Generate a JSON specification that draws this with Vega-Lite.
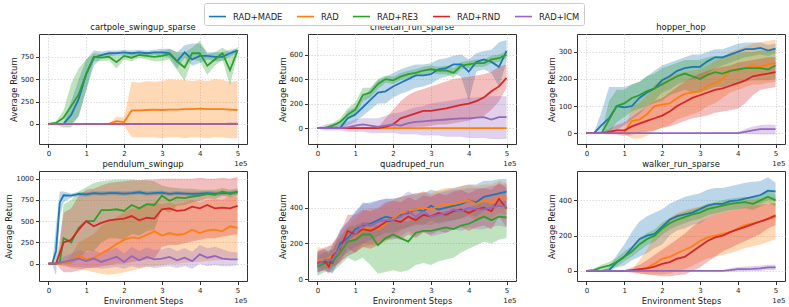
{
"$schema":"https://vega.github.io/schema/vega-lite/v6.json",
"padding":{"left":4,"top":2,"right":0,"bottom":0},
"config":{
"font":"DejaVu Sans",
"view":{"stroke":"#333333","strokeWidth":1},
"axis":{"labelFontSize":7,"titleFontSize":8.4,"titleFontWeight":"normal","labelColor":"#222222","titleColor":"#222222","tickColor":"#333333","tickSize":3.5,"labelPadding":1.5,"domain":false,"grid":true,"gridColor":"#d4d4d4","gridDash":[1.5,1.5],"gridWidth":0.8,"titlePadding":3,"labelFlush":false,"labelOverlap":false},
"axisY":{"titlePadding":2,"labelPadding":2},
"title":{"fontSize":8.4,"fontWeight":"normal","offset":3,"color":"#111111"},
"legend":{"symbolType":"stroke","symbolSize":289,"symbolStrokeWidth":1.6,"labelFontSize":8.4,"labelColor":"#222222","columnPadding":10,"labelOffset":6,"strokeColor":"#cccccc","fillColor":"#ffffff","padding":4,"cornerRadius":2}
},
"datasets":{
"cartpole":[
{"algo":"RAD+MADE","step":0,"ret":0,"lo":-5,"hi":5},{"algo":"RAD+MADE","step":0.2,"ret":0,"lo":-5,"hi":5},{"algo":"RAD+MADE","step":0.4,"ret":0,"lo":-10,"hi":10},{"algo":"RAD+MADE","step":0.6,"ret":100,"lo":0,"hi":250},{"algo":"RAD+MADE","step":0.8,"ret":280,"lo":80,"hi":500},{"algo":"RAD+MADE","step":1.0,"ret":560,"lo":380,"hi":720},{"algo":"RAD+MADE","step":1.2,"ret":740,"lo":650,"hi":820},{"algo":"RAD+MADE","step":1.4,"ret":770,"lo":740,"hi":810},{"algo":"RAD+MADE","step":1.6,"ret":790,"lo":760,"hi":820},{"algo":"RAD+MADE","step":1.8,"ret":790,"lo":760,"hi":820},{"algo":"RAD+MADE","step":2.0,"ret":800,"lo":770,"hi":830},{"algo":"RAD+MADE","step":2.2,"ret":790,"lo":760,"hi":820},{"algo":"RAD+MADE","step":2.4,"ret":800,"lo":770,"hi":830},{"algo":"RAD+MADE","step":2.6,"ret":790,"lo":760,"hi":820},{"algo":"RAD+MADE","step":2.8,"ret":800,"lo":770,"hi":830},{"algo":"RAD+MADE","step":3.0,"ret":800,"lo":760,"hi":840},{"algo":"RAD+MADE","step":3.2,"ret":790,"lo":740,"hi":840},{"algo":"RAD+MADE","step":3.4,"ret":700,"lo":620,"hi":800},{"algo":"RAD+MADE","step":3.6,"ret":800,"lo":740,"hi":880},{"algo":"RAD+MADE","step":3.8,"ret":720,"lo":650,"hi":900},{"algo":"RAD+MADE","step":4.0,"ret":760,"lo":680,"hi":900},{"algo":"RAD+MADE","step":4.2,"ret":760,"lo":720,"hi":800},{"algo":"RAD+MADE","step":4.4,"ret":750,"lo":700,"hi":800},{"algo":"RAD+MADE","step":4.6,"ret":750,"lo":700,"hi":800},{"algo":"RAD+MADE","step":4.8,"ret":790,"lo":750,"hi":830},{"algo":"RAD+MADE","step":5.0,"ret":820,"lo":790,"hi":840},
{"algo":"RAD","step":0,"ret":0,"lo":-3,"hi":3},{"algo":"RAD","step":0.8,"ret":0,"lo":-3,"hi":3},{"algo":"RAD","step":1.6,"ret":0,"lo":-3,"hi":3},{"algo":"RAD","step":1.8,"ret":30,"lo":-20,"hi":80},{"algo":"RAD","step":2.0,"ret":20,"lo":-20,"hi":70},{"algo":"RAD","step":2.2,"ret":150,"lo":-150,"hi":470},{"algo":"RAD","step":2.4,"ret":150,"lo":-150,"hi":460},{"algo":"RAD","step":2.6,"ret":155,"lo":-150,"hi":480},{"algo":"RAD","step":2.8,"ret":160,"lo":-150,"hi":470},{"algo":"RAD","step":3.0,"ret":155,"lo":-160,"hi":480},{"algo":"RAD","step":3.2,"ret":160,"lo":-150,"hi":500},{"algo":"RAD","step":3.4,"ret":160,"lo":-150,"hi":490},{"algo":"RAD","step":3.6,"ret":165,"lo":-160,"hi":490},{"algo":"RAD","step":3.8,"ret":165,"lo":-150,"hi":480},{"algo":"RAD","step":4.0,"ret":170,"lo":-150,"hi":490},{"algo":"RAD","step":4.2,"ret":165,"lo":-160,"hi":480},{"algo":"RAD","step":4.4,"ret":165,"lo":-150,"hi":500},{"algo":"RAD","step":4.6,"ret":165,"lo":-150,"hi":490},{"algo":"RAD","step":4.8,"ret":160,"lo":-160,"hi":470},{"algo":"RAD","step":5.0,"ret":155,"lo":-160,"hi":480},
{"algo":"RAD+RE3","step":0,"ret":0,"lo":-5,"hi":5},{"algo":"RAD+RE3","step":0.2,"ret":10,"lo":-10,"hi":30},{"algo":"RAD+RE3","step":0.4,"ret":70,"lo":-40,"hi":150},{"algo":"RAD+RE3","step":0.6,"ret":200,"lo":-40,"hi":450},{"algo":"RAD+RE3","step":0.8,"ret":330,"lo":100,"hi":620},{"algo":"RAD+RE3","step":1.0,"ret":560,"lo":380,"hi":720},{"algo":"RAD+RE3","step":1.2,"ret":750,"lo":700,"hi":790},{"algo":"RAD+RE3","step":1.4,"ret":740,"lo":700,"hi":780},{"algo":"RAD+RE3","step":1.6,"ret":750,"lo":710,"hi":790},{"algo":"RAD+RE3","step":1.8,"ret":690,"lo":620,"hi":760},{"algo":"RAD+RE3","step":2.0,"ret":760,"lo":720,"hi":790},{"algo":"RAD+RE3","step":2.2,"ret":740,"lo":700,"hi":780},{"algo":"RAD+RE3","step":2.4,"ret":770,"lo":740,"hi":800},{"algo":"RAD+RE3","step":2.6,"ret":760,"lo":720,"hi":800},{"algo":"RAD+RE3","step":2.8,"ret":750,"lo":700,"hi":800},{"algo":"RAD+RE3","step":3.0,"ret":760,"lo":700,"hi":810},{"algo":"RAD+RE3","step":3.2,"ret":780,"lo":720,"hi":840},{"algo":"RAD+RE3","step":3.4,"ret":700,"lo":600,"hi":800},{"algo":"RAD+RE3","step":3.6,"ret":630,"lo":480,"hi":800},{"algo":"RAD+RE3","step":3.8,"ret":790,"lo":720,"hi":850},{"algo":"RAD+RE3","step":4.0,"ret":790,"lo":700,"hi":930},{"algo":"RAD+RE3","step":4.2,"ret":650,"lo":550,"hi":780},{"algo":"RAD+RE3","step":4.4,"ret":720,"lo":650,"hi":800},{"algo":"RAD+RE3","step":4.6,"ret":790,"lo":720,"hi":850},{"algo":"RAD+RE3","step":4.8,"ret":600,"lo":430,"hi":800},{"algo":"RAD+RE3","step":5.0,"ret":820,"lo":780,"hi":860},
{"algo":"RAD+RND","step":0,"ret":0,"lo":-3,"hi":3},{"algo":"RAD+RND","step":2.5,"ret":0,"lo":-3,"hi":3},{"algo":"RAD+RND","step":5.0,"ret":0,"lo":-3,"hi":3},
{"algo":"RAD+ICM","step":0,"ret":0,"lo":-3,"hi":3},{"algo":"RAD+ICM","step":4.6,"ret":0,"lo":-3,"hi":3},{"algo":"RAD+ICM","step":4.8,"ret":0,"lo":-5,"hi":20},{"algo":"RAD+ICM","step":5.0,"ret":0,"lo":-5,"hi":15}
],
"cheetah":[
{"algo":"RAD+MADE","step":0,"ret":0,"lo":-5,"hi":5},{"algo":"RAD+MADE","step":0.2,"ret":0,"lo":-10,"hi":10},{"algo":"RAD+MADE","step":0.4,"ret":0,"lo":-10,"hi":20},{"algo":"RAD+MADE","step":0.6,"ret":0,"lo":-10,"hi":20},{"algo":"RAD+MADE","step":0.8,"ret":80,"lo":20,"hi":140},{"algo":"RAD+MADE","step":1.0,"ret":110,"lo":50,"hi":170},{"algo":"RAD+MADE","step":1.2,"ret":170,"lo":100,"hi":250},{"algo":"RAD+MADE","step":1.4,"ret":230,"lo":150,"hi":320},{"algo":"RAD+MADE","step":1.6,"ret":290,"lo":200,"hi":390},{"algo":"RAD+MADE","step":1.8,"ret":300,"lo":200,"hi":420},{"algo":"RAD+MADE","step":2.0,"ret":340,"lo":250,"hi":450},{"algo":"RAD+MADE","step":2.2,"ret":370,"lo":280,"hi":480},{"algo":"RAD+MADE","step":2.4,"ret":400,"lo":300,"hi":500},{"algo":"RAD+MADE","step":2.6,"ret":430,"lo":330,"hi":520},{"algo":"RAD+MADE","step":2.8,"ret":430,"lo":340,"hi":520},{"algo":"RAD+MADE","step":3.0,"ret":440,"lo":360,"hi":530},{"algo":"RAD+MADE","step":3.2,"ret":480,"lo":400,"hi":560},{"algo":"RAD+MADE","step":3.4,"ret":490,"lo":420,"hi":570},{"algo":"RAD+MADE","step":3.6,"ret":520,"lo":450,"hi":590},{"algo":"RAD+MADE","step":3.8,"ret":520,"lo":420,"hi":600},{"algo":"RAD+MADE","step":4.0,"ret":460,"lo":220,"hi":560},{"algo":"RAD+MADE","step":4.2,"ret":540,"lo":460,"hi":610},{"algo":"RAD+MADE","step":4.4,"ret":560,"lo":480,"hi":630},{"algo":"RAD+MADE","step":4.6,"ret":540,"lo":450,"hi":640},{"algo":"RAD+MADE","step":4.8,"ret":500,"lo":340,"hi":700},{"algo":"RAD+MADE","step":5.0,"ret":630,"lo":540,"hi":720},
{"algo":"RAD","step":0,"ret":0,"lo":-2,"hi":2},{"algo":"RAD","step":2.5,"ret":0,"lo":-2,"hi":2},{"algo":"RAD","step":5.0,"ret":0,"lo":-2,"hi":2},
{"algo":"RAD+RE3","step":0,"ret":0,"lo":-5,"hi":5},{"algo":"RAD+RE3","step":0.2,"ret":0,"lo":-5,"hi":10},{"algo":"RAD+RE3","step":0.4,"ret":20,"lo":0,"hi":40},{"algo":"RAD+RE3","step":0.6,"ret":50,"lo":20,"hi":80},{"algo":"RAD+RE3","step":0.8,"ret":110,"lo":70,"hi":160},{"algo":"RAD+RE3","step":1.0,"ret":150,"lo":100,"hi":210},{"algo":"RAD+RE3","step":1.2,"ret":270,"lo":220,"hi":330},{"algo":"RAD+RE3","step":1.4,"ret":290,"lo":250,"hi":330},{"algo":"RAD+RE3","step":1.6,"ret":360,"lo":320,"hi":400},{"algo":"RAD+RE3","step":1.8,"ret":400,"lo":370,"hi":430},{"algo":"RAD+RE3","step":2.0,"ret":390,"lo":360,"hi":420},{"algo":"RAD+RE3","step":2.2,"ret":420,"lo":390,"hi":450},{"algo":"RAD+RE3","step":2.4,"ret":440,"lo":410,"hi":470},{"algo":"RAD+RE3","step":2.6,"ret":450,"lo":420,"hi":480},{"algo":"RAD+RE3","step":2.8,"ret":470,"lo":440,"hi":500},{"algo":"RAD+RE3","step":3.0,"ret":480,"lo":450,"hi":510},{"algo":"RAD+RE3","step":3.2,"ret":470,"lo":440,"hi":500},{"algo":"RAD+RE3","step":3.4,"ret":470,"lo":440,"hi":510},{"algo":"RAD+RE3","step":3.6,"ret":450,"lo":410,"hi":490},{"algo":"RAD+RE3","step":3.8,"ret":510,"lo":480,"hi":540},{"algo":"RAD+RE3","step":4.0,"ret":520,"lo":490,"hi":550},{"algo":"RAD+RE3","step":4.2,"ret":530,"lo":500,"hi":560},{"algo":"RAD+RE3","step":4.4,"ret":530,"lo":500,"hi":560},{"algo":"RAD+RE3","step":4.6,"ret":560,"lo":530,"hi":590},{"algo":"RAD+RE3","step":4.8,"ret":570,"lo":540,"hi":600},{"algo":"RAD+RE3","step":5.0,"ret":600,"lo":570,"hi":630},
{"algo":"RAD+RND","step":0,"ret":0,"lo":-5,"hi":5},{"algo":"RAD+RND","step":0.8,"ret":0,"lo":-5,"hi":5},{"algo":"RAD+RND","step":1.6,"ret":0,"lo":-5,"hi":5},{"algo":"RAD+RND","step":1.8,"ret":10,"lo":-5,"hi":80},{"algo":"RAD+RND","step":2.0,"ret":30,"lo":0,"hi":150},{"algo":"RAD+RND","step":2.2,"ret":80,"lo":0,"hi":220},{"algo":"RAD+RND","step":2.4,"ret":100,"lo":0,"hi":270},{"algo":"RAD+RND","step":2.6,"ret":120,"lo":10,"hi":300},{"algo":"RAD+RND","step":2.8,"ret":140,"lo":10,"hi":320},{"algo":"RAD+RND","step":3.0,"ret":140,"lo":20,"hi":340},{"algo":"RAD+RND","step":3.2,"ret":150,"lo":30,"hi":360},{"algo":"RAD+RND","step":3.4,"ret":160,"lo":30,"hi":380},{"algo":"RAD+RND","step":3.6,"ret":175,"lo":40,"hi":400},{"algo":"RAD+RND","step":3.8,"ret":190,"lo":50,"hi":410},{"algo":"RAD+RND","step":4.0,"ret":200,"lo":60,"hi":420},{"algo":"RAD+RND","step":4.2,"ret":220,"lo":80,"hi":430},{"algo":"RAD+RND","step":4.4,"ret":250,"lo":100,"hi":440},{"algo":"RAD+RND","step":4.6,"ret":300,"lo":150,"hi":460},{"algo":"RAD+RND","step":4.8,"ret":340,"lo":220,"hi":500},{"algo":"RAD+RND","step":5.0,"ret":410,"lo":330,"hi":520},
{"algo":"RAD+ICM","step":0,"ret":0,"lo":-5,"hi":5},{"algo":"RAD+ICM","step":0.2,"ret":0,"lo":-20,"hi":30},{"algo":"RAD+ICM","step":0.4,"ret":0,"lo":-20,"hi":40},{"algo":"RAD+ICM","step":0.6,"ret":0,"lo":-20,"hi":40},{"algo":"RAD+ICM","step":0.8,"ret":5,"lo":-30,"hi":50},{"algo":"RAD+ICM","step":1.0,"ret":20,"lo":-30,"hi":70},{"algo":"RAD+ICM","step":1.2,"ret":30,"lo":-30,"hi":80},{"algo":"RAD+ICM","step":1.4,"ret":20,"lo":-40,"hi":80},{"algo":"RAD+ICM","step":1.6,"ret":10,"lo":-40,"hi":80},{"algo":"RAD+ICM","step":1.8,"ret":20,"lo":-40,"hi":100},{"algo":"RAD+ICM","step":2.0,"ret":30,"lo":-40,"hi":120},{"algo":"RAD+ICM","step":2.2,"ret":20,"lo":-50,"hi":130},{"algo":"RAD+ICM","step":2.4,"ret":40,"lo":-50,"hi":150},{"algo":"RAD+ICM","step":2.6,"ret":50,"lo":-50,"hi":170},{"algo":"RAD+ICM","step":2.8,"ret":55,"lo":-60,"hi":180},{"algo":"RAD+ICM","step":3.0,"ret":60,"lo":-60,"hi":200},{"algo":"RAD+ICM","step":3.2,"ret":65,"lo":-60,"hi":210},{"algo":"RAD+ICM","step":3.4,"ret":70,"lo":-70,"hi":220},{"algo":"RAD+ICM","step":3.6,"ret":75,"lo":-70,"hi":230},{"algo":"RAD+ICM","step":3.8,"ret":80,"lo":-70,"hi":240},{"algo":"RAD+ICM","step":4.0,"ret":80,"lo":-80,"hi":250},{"algo":"RAD+ICM","step":4.2,"ret":85,"lo":-80,"hi":250},{"algo":"RAD+ICM","step":4.4,"ret":90,"lo":-80,"hi":260},{"algo":"RAD+ICM","step":4.6,"ret":70,"lo":-90,"hi":260},{"algo":"RAD+ICM","step":4.8,"ret":90,"lo":-90,"hi":260},{"algo":"RAD+ICM","step":5.0,"ret":90,"lo":-90,"hi":260}
],
"hopper":[
{"algo":"RAD+MADE","step":0,"ret":0,"lo":-2,"hi":2},{"algo":"RAD+MADE","step":0.2,"ret":0,"lo":-2,"hi":2},{"algo":"RAD+MADE","step":0.4,"ret":30,"lo":0,"hi":80},{"algo":"RAD+MADE","step":0.6,"ret":55,"lo":0,"hi":170},{"algo":"RAD+MADE","step":0.8,"ret":100,"lo":10,"hi":170},{"algo":"RAD+MADE","step":1.0,"ret":95,"lo":30,"hi":170},{"algo":"RAD+MADE","step":1.2,"ret":100,"lo":50,"hi":180},{"algo":"RAD+MADE","step":1.4,"ret":130,"lo":70,"hi":190},{"algo":"RAD+MADE","step":1.6,"ret":150,"lo":100,"hi":210},{"algo":"RAD+MADE","step":1.8,"ret":165,"lo":120,"hi":230},{"algo":"RAD+MADE","step":2.0,"ret":195,"lo":150,"hi":250},{"algo":"RAD+MADE","step":2.2,"ret":210,"lo":160,"hi":260},{"algo":"RAD+MADE","step":2.4,"ret":230,"lo":180,"hi":270},{"algo":"RAD+MADE","step":2.6,"ret":240,"lo":190,"hi":280},{"algo":"RAD+MADE","step":2.8,"ret":245,"lo":200,"hi":290},{"algo":"RAD+MADE","step":3.0,"ret":245,"lo":200,"hi":290},{"algo":"RAD+MADE","step":3.2,"ret":265,"lo":220,"hi":300},{"algo":"RAD+MADE","step":3.4,"ret":280,"lo":240,"hi":310},{"algo":"RAD+MADE","step":3.6,"ret":280,"lo":250,"hi":310},{"algo":"RAD+MADE","step":3.8,"ret":290,"lo":260,"hi":320},{"algo":"RAD+MADE","step":4.0,"ret":300,"lo":270,"hi":330},{"algo":"RAD+MADE","step":4.2,"ret":310,"lo":280,"hi":335},{"algo":"RAD+MADE","step":4.4,"ret":310,"lo":285,"hi":335},{"algo":"RAD+MADE","step":4.6,"ret":315,"lo":290,"hi":335},{"algo":"RAD+MADE","step":4.8,"ret":305,"lo":285,"hi":325},{"algo":"RAD+MADE","step":5.0,"ret":312,"lo":295,"hi":330},
{"algo":"RAD","step":0,"ret":0,"lo":-3,"hi":3},{"algo":"RAD","step":0.5,"ret":0,"lo":-3,"hi":3},{"algo":"RAD","step":1.0,"ret":0,"lo":-3,"hi":3},{"algo":"RAD","step":1.2,"ret":45,"lo":-20,"hi":100},{"algo":"RAD","step":1.4,"ret":50,"lo":-20,"hi":110},{"algo":"RAD","step":1.6,"ret":70,"lo":-10,"hi":140},{"algo":"RAD","step":1.8,"ret":100,"lo":10,"hi":180},{"algo":"RAD","step":2.0,"ret":105,"lo":20,"hi":200},{"algo":"RAD","step":2.2,"ret":110,"lo":30,"hi":210},{"algo":"RAD","step":2.4,"ret":130,"lo":50,"hi":220},{"algo":"RAD","step":2.6,"ret":145,"lo":60,"hi":225},{"algo":"RAD","step":2.8,"ret":150,"lo":70,"hi":230},{"algo":"RAD","step":3.0,"ret":155,"lo":80,"hi":235},{"algo":"RAD","step":3.2,"ret":175,"lo":100,"hi":250},{"algo":"RAD","step":3.4,"ret":185,"lo":110,"hi":265},{"algo":"RAD","step":3.6,"ret":200,"lo":130,"hi":280},{"algo":"RAD","step":3.8,"ret":230,"lo":150,"hi":300},{"algo":"RAD","step":4.0,"ret":235,"lo":160,"hi":310},{"algo":"RAD","step":4.2,"ret":240,"lo":170,"hi":320},{"algo":"RAD","step":4.4,"ret":250,"lo":180,"hi":330},{"algo":"RAD","step":4.6,"ret":245,"lo":180,"hi":335},{"algo":"RAD","step":4.8,"ret":255,"lo":185,"hi":340},{"algo":"RAD","step":5.0,"ret":258,"lo":190,"hi":345},
{"algo":"RAD+RE3","step":0,"ret":0,"lo":-2,"hi":2},{"algo":"RAD+RE3","step":0.2,"ret":0,"lo":-2,"hi":2},{"algo":"RAD+RE3","step":0.4,"ret":0,"lo":-2,"hi":5},{"algo":"RAD+RE3","step":0.6,"ret":50,"lo":0,"hi":120},{"algo":"RAD+RE3","step":0.8,"ret":100,"lo":40,"hi":160},{"algo":"RAD+RE3","step":1.0,"ret":110,"lo":60,"hi":160},{"algo":"RAD+RE3","step":1.2,"ret":130,"lo":80,"hi":180},{"algo":"RAD+RE3","step":1.4,"ret":140,"lo":90,"hi":190},{"algo":"RAD+RE3","step":1.6,"ret":155,"lo":100,"hi":210},{"algo":"RAD+RE3","step":1.8,"ret":165,"lo":110,"hi":220},{"algo":"RAD+RE3","step":2.0,"ret":180,"lo":120,"hi":240},{"algo":"RAD+RE3","step":2.2,"ret":195,"lo":140,"hi":250},{"algo":"RAD+RE3","step":2.4,"ret":210,"lo":150,"hi":260},{"algo":"RAD+RE3","step":2.6,"ret":220,"lo":160,"hi":270},{"algo":"RAD+RE3","step":2.8,"ret":210,"lo":150,"hi":270},{"algo":"RAD+RE3","step":3.0,"ret":200,"lo":150,"hi":270},{"algo":"RAD+RE3","step":3.2,"ret":215,"lo":160,"hi":280},{"algo":"RAD+RE3","step":3.4,"ret":225,"lo":170,"hi":285},{"algo":"RAD+RE3","step":3.6,"ret":220,"lo":170,"hi":285},{"algo":"RAD+RE3","step":3.8,"ret":230,"lo":180,"hi":290},{"algo":"RAD+RE3","step":4.0,"ret":235,"lo":180,"hi":295},{"algo":"RAD+RE3","step":4.2,"ret":240,"lo":190,"hi":300},{"algo":"RAD+RE3","step":4.4,"ret":240,"lo":195,"hi":300},{"algo":"RAD+RE3","step":4.6,"ret":240,"lo":195,"hi":305},{"algo":"RAD+RE3","step":4.8,"ret":235,"lo":195,"hi":305},{"algo":"RAD+RE3","step":5.0,"ret":250,"lo":200,"hi":310},
{"algo":"RAD+RND","step":0,"ret":0,"lo":-2,"hi":2},{"algo":"RAD+RND","step":0.4,"ret":0,"lo":-2,"hi":2},{"algo":"RAD+RND","step":0.6,"ret":5,"lo":-5,"hi":15},{"algo":"RAD+RND","step":0.8,"ret":10,"lo":-5,"hi":30},{"algo":"RAD+RND","step":1.0,"ret":10,"lo":-10,"hi":40},{"algo":"RAD+RND","step":1.2,"ret":25,"lo":-5,"hi":60},{"algo":"RAD+RND","step":1.4,"ret":35,"lo":0,"hi":80},{"algo":"RAD+RND","step":1.6,"ret":45,"lo":5,"hi":100},{"algo":"RAD+RND","step":1.8,"ret":55,"lo":10,"hi":120},{"algo":"RAD+RND","step":2.0,"ret":65,"lo":20,"hi":130},{"algo":"RAD+RND","step":2.2,"ret":80,"lo":25,"hi":150},{"algo":"RAD+RND","step":2.4,"ret":100,"lo":35,"hi":170},{"algo":"RAD+RND","step":2.6,"ret":115,"lo":45,"hi":190},{"algo":"RAD+RND","step":2.8,"ret":130,"lo":55,"hi":205},{"algo":"RAD+RND","step":3.0,"ret":140,"lo":60,"hi":220},{"algo":"RAD+RND","step":3.2,"ret":150,"lo":65,"hi":230},{"algo":"RAD+RND","step":3.4,"ret":160,"lo":75,"hi":240},{"algo":"RAD+RND","step":3.6,"ret":165,"lo":80,"hi":245},{"algo":"RAD+RND","step":3.8,"ret":175,"lo":85,"hi":250},{"algo":"RAD+RND","step":4.0,"ret":185,"lo":90,"hi":260},{"algo":"RAD+RND","step":4.2,"ret":195,"lo":110,"hi":265},{"algo":"RAD+RND","step":4.4,"ret":210,"lo":140,"hi":270},{"algo":"RAD+RND","step":4.6,"ret":215,"lo":160,"hi":275},{"algo":"RAD+RND","step":4.8,"ret":220,"lo":165,"hi":280},{"algo":"RAD+RND","step":5.0,"ret":225,"lo":170,"hi":280},
{"algo":"RAD+ICM","step":0,"ret":0,"lo":-1,"hi":1},{"algo":"RAD+ICM","step":2.0,"ret":0,"lo":-1,"hi":1},{"algo":"RAD+ICM","step":4.0,"ret":0,"lo":-1,"hi":2},{"algo":"RAD+ICM","step":4.2,"ret":5,"lo":-3,"hi":15},{"algo":"RAD+ICM","step":4.4,"ret":10,"lo":-4,"hi":25},{"algo":"RAD+ICM","step":4.6,"ret":15,"lo":-5,"hi":30},{"algo":"RAD+ICM","step":4.8,"ret":15,"lo":-5,"hi":32},{"algo":"RAD+ICM","step":5.0,"ret":15,"lo":-5,"hi":30}
],
"pendulum":[
{"algo":"RAD+MADE","step":0,"ret":0,"lo":-5,"hi":5},{"algo":"RAD+MADE","step":0.1,"ret":0,"lo":-5,"hi":5},{"algo":"RAD+MADE","step":0.2,"ret":150,"lo":-140,"hi":450},{"algo":"RAD+MADE","step":0.3,"ret":720,"lo":550,"hi":850},{"algo":"RAD+MADE","step":0.4,"ret":805,"lo":720,"hi":850},{"algo":"RAD+MADE","step":0.6,"ret":800,"lo":775,"hi":825},{"algo":"RAD+MADE","step":0.8,"ret":820,"lo":795,"hi":845},{"algo":"RAD+MADE","step":1.0,"ret":815,"lo":790,"hi":840},{"algo":"RAD+MADE","step":1.2,"ret":830,"lo":805,"hi":855},{"algo":"RAD+MADE","step":1.4,"ret":825,"lo":800,"hi":850},{"algo":"RAD+MADE","step":1.6,"ret":830,"lo":805,"hi":855},{"algo":"RAD+MADE","step":1.8,"ret":830,"lo":805,"hi":855},{"algo":"RAD+MADE","step":2.0,"ret":825,"lo":800,"hi":850},{"algo":"RAD+MADE","step":2.2,"ret":830,"lo":805,"hi":855},{"algo":"RAD+MADE","step":2.4,"ret":840,"lo":815,"hi":865},{"algo":"RAD+MADE","step":2.6,"ret":825,"lo":800,"hi":850},{"algo":"RAD+MADE","step":2.8,"ret":830,"lo":805,"hi":855},{"algo":"RAD+MADE","step":3.0,"ret":835,"lo":810,"hi":860},{"algo":"RAD+MADE","step":3.2,"ret":820,"lo":795,"hi":845},{"algo":"RAD+MADE","step":3.4,"ret":830,"lo":805,"hi":855},{"algo":"RAD+MADE","step":3.6,"ret":825,"lo":800,"hi":850},{"algo":"RAD+MADE","step":3.8,"ret":820,"lo":795,"hi":845},{"algo":"RAD+MADE","step":4.0,"ret":825,"lo":800,"hi":850},{"algo":"RAD+MADE","step":4.2,"ret":830,"lo":805,"hi":855},{"algo":"RAD+MADE","step":4.4,"ret":825,"lo":800,"hi":850},{"algo":"RAD+MADE","step":4.6,"ret":830,"lo":805,"hi":855},{"algo":"RAD+MADE","step":4.8,"ret":830,"lo":805,"hi":855},{"algo":"RAD+MADE","step":5.0,"ret":840,"lo":815,"hi":865},
{"algo":"RAD","step":0,"ret":0,"lo":-5,"hi":5},{"algo":"RAD","step":0.4,"ret":0,"lo":-5,"hi":5},{"algo":"RAD","step":0.6,"ret":20,"lo":-50,"hi":100},{"algo":"RAD","step":0.8,"ret":100,"lo":-60,"hi":250},{"algo":"RAD","step":1.0,"ret":50,"lo":-80,"hi":300},{"algo":"RAD","step":1.2,"ret":70,"lo":-100,"hi":350},{"algo":"RAD","step":1.4,"ret":120,"lo":-120,"hi":450},{"algo":"RAD","step":1.6,"ret":170,"lo":-130,"hi":500},{"algo":"RAD","step":1.8,"ret":230,"lo":-120,"hi":550},{"algo":"RAD","step":2.0,"ret":280,"lo":-100,"hi":600},{"algo":"RAD","step":2.2,"ret":310,"lo":-80,"hi":650},{"algo":"RAD","step":2.4,"ret":300,"lo":-60,"hi":650},{"algo":"RAD","step":2.6,"ret":340,"lo":-40,"hi":700},{"algo":"RAD","step":2.8,"ret":380,"lo":-30,"hi":720},{"algo":"RAD","step":3.0,"ret":330,"lo":-20,"hi":700},{"algo":"RAD","step":3.2,"ret":360,"lo":0,"hi":720},{"algo":"RAD","step":3.4,"ret":340,"lo":0,"hi":700},{"algo":"RAD","step":3.6,"ret":350,"lo":10,"hi":720},{"algo":"RAD","step":3.8,"ret":400,"lo":20,"hi":750},{"algo":"RAD","step":4.0,"ret":360,"lo":20,"hi":720},{"algo":"RAD","step":4.2,"ret":390,"lo":30,"hi":750},{"algo":"RAD","step":4.4,"ret":400,"lo":40,"hi":760},{"algo":"RAD","step":4.6,"ret":380,"lo":40,"hi":750},{"algo":"RAD","step":4.8,"ret":440,"lo":60,"hi":800},{"algo":"RAD","step":5.0,"ret":420,"lo":60,"hi":780},
{"algo":"RAD+RE3","step":0,"ret":0,"lo":-5,"hi":5},{"algo":"RAD+RE3","step":0.2,"ret":0,"lo":-5,"hi":5},{"algo":"RAD+RE3","step":0.3,"ret":20,"lo":-20,"hi":200},{"algo":"RAD+RE3","step":0.4,"ret":300,"lo":0,"hi":700},{"algo":"RAD+RE3","step":0.6,"ret":250,"lo":0,"hi":750},{"algo":"RAD+RE3","step":0.8,"ret":420,"lo":50,"hi":850},{"algo":"RAD+RE3","step":1.0,"ret":500,"lo":150,"hi":900},{"algo":"RAD+RE3","step":1.2,"ret":500,"lo":150,"hi":950},{"algo":"RAD+RE3","step":1.4,"ret":630,"lo":250,"hi":970},{"algo":"RAD+RE3","step":1.6,"ret":630,"lo":300,"hi":980},{"algo":"RAD+RE3","step":1.8,"ret":640,"lo":300,"hi":990},{"algo":"RAD+RE3","step":2.0,"ret":620,"lo":280,"hi":990},{"algo":"RAD+RE3","step":2.2,"ret":690,"lo":350,"hi":990},{"algo":"RAD+RE3","step":2.4,"ret":650,"lo":330,"hi":980},{"algo":"RAD+RE3","step":2.6,"ret":700,"lo":380,"hi":980},{"algo":"RAD+RE3","step":2.8,"ret":690,"lo":400,"hi":970},{"algo":"RAD+RE3","step":3.0,"ret":800,"lo":650,"hi":920},{"algo":"RAD+RE3","step":3.2,"ret":740,"lo":600,"hi":900},{"algo":"RAD+RE3","step":3.4,"ret":780,"lo":680,"hi":890},{"algo":"RAD+RE3","step":3.6,"ret":770,"lo":690,"hi":880},{"algo":"RAD+RE3","step":3.8,"ret":790,"lo":720,"hi":880},{"algo":"RAD+RE3","step":4.0,"ret":800,"lo":740,"hi":870},{"algo":"RAD+RE3","step":4.2,"ret":820,"lo":770,"hi":870},{"algo":"RAD+RE3","step":4.4,"ret":810,"lo":760,"hi":870},{"algo":"RAD+RE3","step":4.6,"ret":850,"lo":800,"hi":890},{"algo":"RAD+RE3","step":4.8,"ret":820,"lo":780,"hi":870},{"algo":"RAD+RE3","step":5.0,"ret":850,"lo":800,"hi":890},
{"algo":"RAD+RND","step":0,"ret":0,"lo":-5,"hi":5},{"algo":"RAD+RND","step":0.2,"ret":0,"lo":-5,"hi":5},{"algo":"RAD+RND","step":0.4,"ret":250,"lo":-100,"hi":600},{"algo":"RAD+RND","step":0.6,"ret":280,"lo":-100,"hi":650},{"algo":"RAD+RND","step":0.8,"ret":400,"lo":-80,"hi":800},{"algo":"RAD+RND","step":1.0,"ret":500,"lo":-50,"hi":870},{"algo":"RAD+RND","step":1.2,"ret":440,"lo":-50,"hi":880},{"algo":"RAD+RND","step":1.4,"ret":480,"lo":-30,"hi":920},{"algo":"RAD+RND","step":1.6,"ret":510,"lo":-20,"hi":950},{"algo":"RAD+RND","step":1.8,"ret":520,"lo":0,"hi":960},{"algo":"RAD+RND","step":2.0,"ret":530,"lo":0,"hi":970},{"algo":"RAD+RND","step":2.2,"ret":560,"lo":20,"hi":980},{"algo":"RAD+RND","step":2.4,"ret":510,"lo":30,"hi":980},{"algo":"RAD+RND","step":2.6,"ret":540,"lo":50,"hi":990},{"algo":"RAD+RND","step":2.8,"ret":530,"lo":60,"hi":990},{"algo":"RAD+RND","step":3.0,"ret":640,"lo":200,"hi":1000},{"algo":"RAD+RND","step":3.2,"ret":650,"lo":220,"hi":1000},{"algo":"RAD+RND","step":3.4,"ret":620,"lo":220,"hi":1000},{"algo":"RAD+RND","step":3.6,"ret":630,"lo":240,"hi":1000},{"algo":"RAD+RND","step":3.8,"ret":670,"lo":260,"hi":1000},{"algo":"RAD+RND","step":4.0,"ret":650,"lo":280,"hi":1010},{"algo":"RAD+RND","step":4.2,"ret":690,"lo":300,"hi":1000},{"algo":"RAD+RND","step":4.4,"ret":650,"lo":300,"hi":1000},{"algo":"RAD+RND","step":4.6,"ret":660,"lo":320,"hi":1010},{"algo":"RAD+RND","step":4.8,"ret":650,"lo":330,"hi":1000},{"algo":"RAD+RND","step":5.0,"ret":680,"lo":350,"hi":1020},
{"algo":"RAD+ICM","step":0,"ret":0,"lo":-5,"hi":5},{"algo":"RAD+ICM","step":0.2,"ret":0,"lo":-5,"hi":5},{"algo":"RAD+ICM","step":0.4,"ret":20,"lo":-30,"hi":80},{"algo":"RAD+ICM","step":0.6,"ret":40,"lo":-40,"hi":120},{"algo":"RAD+ICM","step":0.8,"ret":60,"lo":-40,"hi":160},{"algo":"RAD+ICM","step":1.0,"ret":30,"lo":-50,"hi":130},{"algo":"RAD+ICM","step":1.2,"ret":60,"lo":-40,"hi":160},{"algo":"RAD+ICM","step":1.4,"ret":20,"lo":-60,"hi":120},{"algo":"RAD+ICM","step":1.6,"ret":50,"lo":-50,"hi":160},{"algo":"RAD+ICM","step":1.8,"ret":80,"lo":-40,"hi":190},{"algo":"RAD+ICM","step":2.0,"ret":20,"lo":-60,"hi":120},{"algo":"RAD+ICM","step":2.2,"ret":90,"lo":-30,"hi":200},{"algo":"RAD+ICM","step":2.4,"ret":40,"lo":-50,"hi":150},{"algo":"RAD+ICM","step":2.6,"ret":80,"lo":-30,"hi":190},{"algo":"RAD+ICM","step":2.8,"ret":50,"lo":-50,"hi":160},{"algo":"RAD+ICM","step":3.0,"ret":60,"lo":-40,"hi":170},{"algo":"RAD+ICM","step":3.2,"ret":80,"lo":-30,"hi":190},{"algo":"RAD+ICM","step":3.4,"ret":40,"lo":-50,"hi":150},{"algo":"RAD+ICM","step":3.6,"ret":70,"lo":-30,"hi":180},{"algo":"RAD+ICM","step":3.8,"ret":30,"lo":-60,"hi":140},{"algo":"RAD+ICM","step":4.0,"ret":110,"lo":0,"hi":220},{"algo":"RAD+ICM","step":4.2,"ret":70,"lo":-30,"hi":180},{"algo":"RAD+ICM","step":4.4,"ret":90,"lo":-20,"hi":200},{"algo":"RAD+ICM","step":4.6,"ret":60,"lo":-30,"hi":170},{"algo":"RAD+ICM","step":4.8,"ret":50,"lo":-30,"hi":140},{"algo":"RAD+ICM","step":5.0,"ret":50,"lo":-20,"hi":130}
],
"quadruped":[
{"algo":"RAD+MADE","step":0,"ret":90,"lo":40,"hi":150},{"algo":"RAD+MADE","step":0.2,"ret":100,"lo":50,"hi":160},{"algo":"RAD+MADE","step":0.4,"ret":90,"lo":30,"hi":160},{"algo":"RAD+MADE","step":0.6,"ret":200,"lo":120,"hi":280},{"algo":"RAD+MADE","step":0.8,"ret":230,"lo":150,"hi":320},{"algo":"RAD+MADE","step":1.0,"ret":280,"lo":180,"hi":380},{"algo":"RAD+MADE","step":1.2,"ret":300,"lo":200,"hi":420},{"algo":"RAD+MADE","step":1.4,"ret":310,"lo":220,"hi":430},{"algo":"RAD+MADE","step":1.6,"ret":330,"lo":240,"hi":440},{"algo":"RAD+MADE","step":1.8,"ret":350,"lo":260,"hi":450},{"algo":"RAD+MADE","step":2.0,"ret":340,"lo":260,"hi":450},{"algo":"RAD+MADE","step":2.2,"ret":360,"lo":280,"hi":460},{"algo":"RAD+MADE","step":2.4,"ret":370,"lo":290,"hi":470},{"algo":"RAD+MADE","step":2.6,"ret":390,"lo":310,"hi":480},{"algo":"RAD+MADE","step":2.8,"ret":380,"lo":300,"hi":480},{"algo":"RAD+MADE","step":3.0,"ret":410,"lo":330,"hi":500},{"algo":"RAD+MADE","step":3.2,"ret":390,"lo":310,"hi":490},{"algo":"RAD+MADE","step":3.4,"ret":400,"lo":320,"hi":500},{"algo":"RAD+MADE","step":3.6,"ret":410,"lo":330,"hi":510},{"algo":"RAD+MADE","step":3.8,"ret":420,"lo":340,"hi":520},{"algo":"RAD+MADE","step":4.0,"ret":440,"lo":360,"hi":530},{"algo":"RAD+MADE","step":4.2,"ret":430,"lo":350,"hi":530},{"algo":"RAD+MADE","step":4.4,"ret":460,"lo":380,"hi":550},{"algo":"RAD+MADE","step":4.6,"ret":470,"lo":400,"hi":550},{"algo":"RAD+MADE","step":4.8,"ret":480,"lo":410,"hi":560},{"algo":"RAD+MADE","step":5.0,"ret":490,"lo":420,"hi":560},
{"algo":"RAD","step":0,"ret":110,"lo":60,"hi":180},{"algo":"RAD","step":0.2,"ret":110,"lo":60,"hi":170},{"algo":"RAD","step":0.4,"ret":130,"lo":70,"hi":200},{"algo":"RAD","step":0.6,"ret":160,"lo":100,"hi":240},{"algo":"RAD","step":0.8,"ret":210,"lo":130,"hi":300},{"algo":"RAD","step":1.0,"ret":240,"lo":150,"hi":340},{"algo":"RAD","step":1.2,"ret":280,"lo":180,"hi":380},{"algo":"RAD","step":1.4,"ret":290,"lo":190,"hi":400},{"algo":"RAD","step":1.6,"ret":280,"lo":190,"hi":390},{"algo":"RAD","step":1.8,"ret":310,"lo":210,"hi":420},{"algo":"RAD","step":2.0,"ret":340,"lo":240,"hi":440},{"algo":"RAD","step":2.2,"ret":370,"lo":270,"hi":460},{"algo":"RAD","step":2.4,"ret":380,"lo":290,"hi":470},{"algo":"RAD","step":2.6,"ret":390,"lo":300,"hi":480},{"algo":"RAD","step":2.8,"ret":400,"lo":310,"hi":490},{"algo":"RAD","step":3.0,"ret":390,"lo":300,"hi":480},{"algo":"RAD","step":3.2,"ret":410,"lo":320,"hi":500},{"algo":"RAD","step":3.4,"ret":420,"lo":330,"hi":510},{"algo":"RAD","step":3.6,"ret":420,"lo":330,"hi":510},{"algo":"RAD","step":3.8,"ret":430,"lo":340,"hi":520},{"algo":"RAD","step":4.0,"ret":440,"lo":350,"hi":530},{"algo":"RAD","step":4.2,"ret":420,"lo":330,"hi":520},{"algo":"RAD","step":4.4,"ret":440,"lo":350,"hi":530},{"algo":"RAD","step":4.6,"ret":430,"lo":340,"hi":530},{"algo":"RAD","step":4.8,"ret":460,"lo":370,"hi":550},{"algo":"RAD","step":5.0,"ret":450,"lo":360,"hi":540},
{"algo":"RAD+RE3","step":0,"ret":70,"lo":20,"hi":130},{"algo":"RAD+RE3","step":0.2,"ret":90,"lo":40,"hi":150},{"algo":"RAD+RE3","step":0.4,"ret":100,"lo":40,"hi":170},{"algo":"RAD+RE3","step":0.6,"ret":150,"lo":80,"hi":230},{"algo":"RAD+RE3","step":0.8,"ret":210,"lo":120,"hi":290},{"algo":"RAD+RE3","step":1.0,"ret":220,"lo":100,"hi":300},{"algo":"RAD+RE3","step":1.2,"ret":250,"lo":120,"hi":320},{"algo":"RAD+RE3","step":1.4,"ret":250,"lo":80,"hi":320},{"algo":"RAD+RE3","step":1.6,"ret":190,"lo":30,"hi":300},{"algo":"RAD+RE3","step":1.8,"ret":230,"lo":40,"hi":320},{"algo":"RAD+RE3","step":2.0,"ret":250,"lo":50,"hi":330},{"algo":"RAD+RE3","step":2.2,"ret":230,"lo":40,"hi":330},{"algo":"RAD+RE3","step":2.4,"ret":210,"lo":50,"hi":320},{"algo":"RAD+RE3","step":2.6,"ret":260,"lo":80,"hi":350},{"algo":"RAD+RE3","step":2.8,"ret":270,"lo":90,"hi":360},{"algo":"RAD+RE3","step":3.0,"ret":270,"lo":80,"hi":360},{"algo":"RAD+RE3","step":3.2,"ret":280,"lo":100,"hi":370},{"algo":"RAD+RE3","step":3.4,"ret":290,"lo":110,"hi":380},{"algo":"RAD+RE3","step":3.6,"ret":280,"lo":120,"hi":380},{"algo":"RAD+RE3","step":3.8,"ret":300,"lo":150,"hi":390},{"algo":"RAD+RE3","step":4.0,"ret":310,"lo":170,"hi":400},{"algo":"RAD+RE3","step":4.2,"ret":330,"lo":190,"hi":420},{"algo":"RAD+RE3","step":4.4,"ret":350,"lo":210,"hi":430},{"algo":"RAD+RE3","step":4.6,"ret":330,"lo":200,"hi":420},{"algo":"RAD+RE3","step":4.8,"ret":350,"lo":220,"hi":430},{"algo":"RAD+RE3","step":5.0,"ret":345,"lo":230,"hi":440},
{"algo":"RAD+RND","step":0,"ret":90,"lo":40,"hi":160},{"algo":"RAD+RND","step":0.2,"ret":100,"lo":50,"hi":170},{"algo":"RAD+RND","step":0.3,"ret":70,"lo":30,"hi":140},{"algo":"RAD+RND","step":0.4,"ret":130,"lo":70,"hi":200},{"algo":"RAD+RND","step":0.6,"ret":170,"lo":90,"hi":260},{"algo":"RAD+RND","step":0.8,"ret":270,"lo":170,"hi":360},{"algo":"RAD+RND","step":1.0,"ret":250,"lo":150,"hi":360},{"algo":"RAD+RND","step":1.2,"ret":280,"lo":180,"hi":390},{"algo":"RAD+RND","step":1.4,"ret":270,"lo":170,"hi":380},{"algo":"RAD+RND","step":1.6,"ret":290,"lo":190,"hi":400},{"algo":"RAD+RND","step":1.8,"ret":320,"lo":220,"hi":430},{"algo":"RAD+RND","step":2.0,"ret":330,"lo":230,"hi":440},{"algo":"RAD+RND","step":2.2,"ret":320,"lo":220,"hi":430},{"algo":"RAD+RND","step":2.4,"ret":350,"lo":250,"hi":460},{"algo":"RAD+RND","step":2.6,"ret":330,"lo":230,"hi":440},{"algo":"RAD+RND","step":2.8,"ret":360,"lo":260,"hi":470},{"algo":"RAD+RND","step":3.0,"ret":350,"lo":250,"hi":460},{"algo":"RAD+RND","step":3.2,"ret":370,"lo":270,"hi":480},{"algo":"RAD+RND","step":3.4,"ret":360,"lo":260,"hi":470},{"algo":"RAD+RND","step":3.6,"ret":380,"lo":280,"hi":490},{"algo":"RAD+RND","step":3.8,"ret":390,"lo":290,"hi":500},{"algo":"RAD+RND","step":4.0,"ret":370,"lo":270,"hi":480},{"algo":"RAD+RND","step":4.2,"ret":390,"lo":290,"hi":500},{"algo":"RAD+RND","step":4.4,"ret":400,"lo":300,"hi":510},{"algo":"RAD+RND","step":4.6,"ret":380,"lo":280,"hi":500},{"algo":"RAD+RND","step":4.8,"ret":450,"lo":350,"hi":540},{"algo":"RAD+RND","step":5.0,"ret":395,"lo":290,"hi":510},
{"algo":"RAD+ICM","step":0,"ret":80,"lo":30,"hi":150},{"algo":"RAD+ICM","step":0.2,"ret":110,"lo":60,"hi":180},{"algo":"RAD+ICM","step":0.4,"ret":110,"lo":50,"hi":190},{"algo":"RAD+ICM","step":0.6,"ret":180,"lo":100,"hi":270},{"algo":"RAD+ICM","step":0.8,"ret":220,"lo":130,"hi":320},{"algo":"RAD+ICM","step":1.0,"ret":250,"lo":150,"hi":370},{"algo":"RAD+ICM","step":1.2,"ret":310,"lo":200,"hi":430},{"algo":"RAD+ICM","step":1.4,"ret":300,"lo":200,"hi":420},{"algo":"RAD+ICM","step":1.6,"ret":320,"lo":210,"hi":440},{"algo":"RAD+ICM","step":1.8,"ret":330,"lo":220,"hi":450},{"algo":"RAD+ICM","step":2.0,"ret":330,"lo":220,"hi":450},{"algo":"RAD+ICM","step":2.2,"ret":350,"lo":240,"hi":460},{"algo":"RAD+ICM","step":2.4,"ret":380,"lo":270,"hi":490},{"algo":"RAD+ICM","step":2.6,"ret":350,"lo":240,"hi":470},{"algo":"RAD+ICM","step":2.8,"ret":380,"lo":270,"hi":490},{"algo":"RAD+ICM","step":3.0,"ret":350,"lo":240,"hi":470},{"algo":"RAD+ICM","step":3.2,"ret":360,"lo":250,"hi":480},{"algo":"RAD+ICM","step":3.4,"ret":370,"lo":260,"hi":490},{"algo":"RAD+ICM","step":3.6,"ret":390,"lo":280,"hi":500},{"algo":"RAD+ICM","step":3.8,"ret":380,"lo":270,"hi":500},{"algo":"RAD+ICM","step":4.0,"ret":400,"lo":290,"hi":510},{"algo":"RAD+ICM","step":4.2,"ret":390,"lo":280,"hi":510},{"algo":"RAD+ICM","step":4.4,"ret":390,"lo":280,"hi":510},{"algo":"RAD+ICM","step":4.6,"ret":400,"lo":290,"hi":520},{"algo":"RAD+ICM","step":4.8,"ret":410,"lo":300,"hi":530},{"algo":"RAD+ICM","step":5.0,"ret":405,"lo":290,"hi":530}
],
"walker":[
{"algo":"RAD+MADE","step":0,"ret":0,"lo":-3,"hi":3},{"algo":"RAD+MADE","step":0.4,"ret":0,"lo":-3,"hi":5},{"algo":"RAD+MADE","step":0.6,"ret":5,"lo":-5,"hi":20},{"algo":"RAD+MADE","step":0.8,"ret":50,"lo":20,"hi":90},{"algo":"RAD+MADE","step":1.0,"ret":80,"lo":30,"hi":150},{"algo":"RAD+MADE","step":1.2,"ret":130,"lo":60,"hi":220},{"algo":"RAD+MADE","step":1.4,"ret":180,"lo":80,"hi":280},{"algo":"RAD+MADE","step":1.6,"ret":200,"lo":100,"hi":310},{"algo":"RAD+MADE","step":1.8,"ret":210,"lo":130,"hi":330},{"algo":"RAD+MADE","step":2.0,"ret":250,"lo":150,"hi":350},{"algo":"RAD+MADE","step":2.2,"ret":290,"lo":200,"hi":380},{"algo":"RAD+MADE","step":2.4,"ret":310,"lo":230,"hi":400},{"algo":"RAD+MADE","step":2.6,"ret":320,"lo":240,"hi":420},{"algo":"RAD+MADE","step":2.8,"ret":330,"lo":260,"hi":430},{"algo":"RAD+MADE","step":3.0,"ret":350,"lo":270,"hi":440},{"algo":"RAD+MADE","step":3.2,"ret":370,"lo":300,"hi":460},{"algo":"RAD+MADE","step":3.4,"ret":380,"lo":320,"hi":470},{"algo":"RAD+MADE","step":3.6,"ret":380,"lo":330,"hi":470},{"algo":"RAD+MADE","step":3.8,"ret":395,"lo":340,"hi":480},{"algo":"RAD+MADE","step":4.0,"ret":400,"lo":350,"hi":490},{"algo":"RAD+MADE","step":4.2,"ret":410,"lo":360,"hi":500},{"algo":"RAD+MADE","step":4.4,"ret":420,"lo":370,"hi":505},{"algo":"RAD+MADE","step":4.6,"ret":430,"lo":380,"hi":510},{"algo":"RAD+MADE","step":4.8,"ret":455,"lo":400,"hi":530},{"algo":"RAD+MADE","step":5.0,"ret":450,"lo":400,"hi":500},
{"algo":"RAD","step":0,"ret":0,"lo":-3,"hi":3},{"algo":"RAD","step":0.6,"ret":0,"lo":-3,"hi":3},{"algo":"RAD","step":1.2,"ret":0,"lo":-3,"hi":3},{"algo":"RAD","step":1.4,"ret":5,"lo":-15,"hi":60},{"algo":"RAD","step":1.6,"ret":20,"lo":-20,"hi":120},{"algo":"RAD","step":1.8,"ret":40,"lo":-20,"hi":200},{"algo":"RAD","step":2.0,"ret":70,"lo":-20,"hi":260},{"algo":"RAD","step":2.2,"ret":80,"lo":-15,"hi":300},{"algo":"RAD","step":2.4,"ret":100,"lo":0,"hi":330},{"algo":"RAD","step":2.6,"ret":120,"lo":10,"hi":345},{"algo":"RAD","step":2.8,"ret":140,"lo":30,"hi":355},{"algo":"RAD","step":3.0,"ret":170,"lo":50,"hi":365},{"algo":"RAD","step":3.2,"ret":190,"lo":70,"hi":375},{"algo":"RAD","step":3.4,"ret":200,"lo":80,"hi":380},{"algo":"RAD","step":3.6,"ret":210,"lo":90,"hi":385},{"algo":"RAD","step":3.8,"ret":220,"lo":100,"hi":390},{"algo":"RAD","step":4.0,"ret":240,"lo":115,"hi":395},{"algo":"RAD","step":4.2,"ret":260,"lo":130,"hi":400},{"algo":"RAD","step":4.4,"ret":270,"lo":140,"hi":405},{"algo":"RAD","step":4.6,"ret":280,"lo":150,"hi":410},{"algo":"RAD","step":4.8,"ret":295,"lo":165,"hi":415},{"algo":"RAD","step":5.0,"ret":305,"lo":180,"hi":420},
{"algo":"RAD+RE3","step":0,"ret":0,"lo":-3,"hi":3},{"algo":"RAD+RE3","step":0.2,"ret":5,"lo":-5,"hi":15},{"algo":"RAD+RE3","step":0.4,"ret":20,"lo":5,"hi":35},{"algo":"RAD+RE3","step":0.6,"ret":30,"lo":10,"hi":50},{"algo":"RAD+RE3","step":0.8,"ret":50,"lo":25,"hi":75},{"algo":"RAD+RE3","step":1.0,"ret":80,"lo":55,"hi":110},{"algo":"RAD+RE3","step":1.2,"ret":110,"lo":80,"hi":140},{"algo":"RAD+RE3","step":1.4,"ret":150,"lo":115,"hi":185},{"algo":"RAD+RE3","step":1.6,"ret":180,"lo":145,"hi":215},{"algo":"RAD+RE3","step":1.8,"ret":200,"lo":165,"hi":235},{"algo":"RAD+RE3","step":2.0,"ret":240,"lo":205,"hi":275},{"algo":"RAD+RE3","step":2.2,"ret":270,"lo":235,"hi":300},{"algo":"RAD+RE3","step":2.4,"ret":290,"lo":255,"hi":320},{"algo":"RAD+RE3","step":2.6,"ret":305,"lo":270,"hi":335},{"algo":"RAD+RE3","step":2.8,"ret":320,"lo":285,"hi":350},{"algo":"RAD+RE3","step":3.0,"ret":330,"lo":295,"hi":360},{"algo":"RAD+RE3","step":3.2,"ret":350,"lo":315,"hi":380},{"algo":"RAD+RE3","step":3.4,"ret":360,"lo":325,"hi":390},{"algo":"RAD+RE3","step":3.6,"ret":370,"lo":335,"hi":400},{"algo":"RAD+RE3","step":3.8,"ret":380,"lo":345,"hi":410},{"algo":"RAD+RE3","step":4.0,"ret":385,"lo":350,"hi":415},{"algo":"RAD+RE3","step":4.2,"ret":390,"lo":355,"hi":420},{"algo":"RAD+RE3","step":4.4,"ret":380,"lo":345,"hi":415},{"algo":"RAD+RE3","step":4.6,"ret":400,"lo":365,"hi":435},{"algo":"RAD+RE3","step":4.8,"ret":420,"lo":385,"hi":455},{"algo":"RAD+RE3","step":5.0,"ret":400,"lo":365,"hi":435},
{"algo":"RAD+RND","step":0,"ret":0,"lo":-3,"hi":3},{"algo":"RAD+RND","step":0.5,"ret":0,"lo":-3,"hi":3},{"algo":"RAD+RND","step":1.0,"ret":0,"lo":-3,"hi":3},{"algo":"RAD+RND","step":1.2,"ret":5,"lo":-10,"hi":20},{"algo":"RAD+RND","step":1.4,"ret":10,"lo":-15,"hi":35},{"algo":"RAD+RND","step":1.6,"ret":15,"lo":-20,"hi":60},{"algo":"RAD+RND","step":1.8,"ret":25,"lo":-25,"hi":90},{"algo":"RAD+RND","step":2.0,"ret":40,"lo":-30,"hi":120},{"algo":"RAD+RND","step":2.2,"ret":50,"lo":-30,"hi":150},{"algo":"RAD+RND","step":2.4,"ret":70,"lo":-25,"hi":180},{"algo":"RAD+RND","step":2.6,"ret":80,"lo":-20,"hi":210},{"algo":"RAD+RND","step":2.8,"ret":110,"lo":0,"hi":250},{"algo":"RAD+RND","step":3.0,"ret":140,"lo":20,"hi":280},{"algo":"RAD+RND","step":3.2,"ret":170,"lo":50,"hi":300},{"algo":"RAD+RND","step":3.4,"ret":190,"lo":80,"hi":320},{"algo":"RAD+RND","step":3.6,"ret":200,"lo":110,"hi":330},{"algo":"RAD+RND","step":3.8,"ret":220,"lo":130,"hi":340},{"algo":"RAD+RND","step":4.0,"ret":235,"lo":150,"hi":350},{"algo":"RAD+RND","step":4.2,"ret":250,"lo":170,"hi":360},{"algo":"RAD+RND","step":4.4,"ret":265,"lo":190,"hi":370},{"algo":"RAD+RND","step":4.6,"ret":280,"lo":210,"hi":375},{"algo":"RAD+RND","step":4.8,"ret":295,"lo":240,"hi":380},{"algo":"RAD+RND","step":5.0,"ret":315,"lo":260,"hi":385},
{"algo":"RAD+ICM","step":0,"ret":0,"lo":-2,"hi":2},{"algo":"RAD+ICM","step":1.8,"ret":0,"lo":-2,"hi":2},{"algo":"RAD+ICM","step":3.6,"ret":0,"lo":-2,"hi":2},{"algo":"RAD+ICM","step":3.8,"ret":5,"lo":-5,"hi":15},{"algo":"RAD+ICM","step":4.0,"ret":10,"lo":-3,"hi":22},{"algo":"RAD+ICM","step":4.2,"ret":10,"lo":-3,"hi":25},{"algo":"RAD+ICM","step":4.4,"ret":12,"lo":0,"hi":28},{"algo":"RAD+ICM","step":4.6,"ret":15,"lo":0,"hi":30},{"algo":"RAD+ICM","step":4.8,"ret":20,"lo":5,"hi":35},{"algo":"RAD+ICM","step":5.0,"ret":20,"lo":5,"hi":35}
]
},
"columns":3,
"spacing":{"row":27,"column":61},
"bounds":"flush",
"concat":[
{"title":"cartpole_swingup_sparse","width":208,"height":110,"data":{"name":"cartpole"},
"layer":[
{"mark":{"type":"area","fillOpacity":0.3},"encoding":{
"x":{"field":"step","type":"quantitative","title":"1e5","scale":{"domain":[-0.25,5.25],"nice":false,"zero":false},"axis":{"values":[0,1,2,3,4,5],"format":"d","labelOverlap":false,"titleAnchor":"end","titleFontSize":7}},
"y":{"field":"lo","type":"quantitative","title":"Average Return","scale":{"domain":[-225,1005],"nice":false,"zero":false},"axis":{"values":[0,250,500,750],"format":"d","labelOverlap":false}},
"y2":{"field":"hi"},
"fill":{"field":"algo","type":"nominal","title":null,"scale":{"domain":["RAD+MADE","RAD","RAD+RE3","RAD+RND","RAD+ICM"],"range":["#1f77b4","#ff7f0e","#2ca02c","#d62728","#9467bd"]}}}},
{"mark":{"type":"line","strokeWidth":1.8},"encoding":{
"x":{"field":"step","type":"quantitative","title":"1e5","axis":{"values":[0,1,2,3,4,5],"format":"d","labelOverlap":false,"titleAnchor":"end","titleFontSize":7}},
"y":{"field":"ret","type":"quantitative","title":"Average Return","axis":{"values":[0,250,500,750],"format":"d","labelOverlap":false}},
"color":{"field":"algo","type":"nominal","title":null,"legend":{"orient":"none","legendX":165,"legendY":-31,"direction":"horizontal"},"scale":{"domain":["RAD+MADE","RAD","RAD+RE3","RAD+RND","RAD+ICM"],"range":["#1f77b4","#ff7f0e","#2ca02c","#d62728","#9467bd"]}}}}
]},
{"title":"cheetah_run_sparse","width":208,"height":110,"data":{"name":"cheetah"},
"layer":[
{"mark":{"type":"area","fillOpacity":0.3},"encoding":{
"x":{"field":"step","type":"quantitative","title":"1e5","scale":{"domain":[-0.25,5.25],"nice":false,"zero":false},"axis":{"values":[0,1,2,3,4,5],"format":"d","labelOverlap":false,"titleAnchor":"end","titleFontSize":7}},
"y":{"field":"lo","type":"quantitative","title":"Average Return","scale":{"domain":[-130,768],"nice":false,"zero":false},"axis":{"values":[0,200,400,600],"format":"d","labelOverlap":false}},
"y2":{"field":"hi"},
"fill":{"field":"algo","type":"nominal","title":null}}},
{"mark":{"type":"line","strokeWidth":1.8},"encoding":{
"x":{"field":"step","type":"quantitative","title":"1e5","axis":{"values":[0,1,2,3,4,5],"format":"d","labelOverlap":false,"titleAnchor":"end","titleFontSize":7}},
"y":{"field":"ret","type":"quantitative","title":"Average Return","axis":{"values":[0,200,400,600],"format":"d","labelOverlap":false}},
"color":{"field":"algo","type":"nominal","title":null,"legend":{"orient":"none","legendX":165,"legendY":-31,"direction":"horizontal"}}}}
]},
{"title":"hopper_hop","width":208,"height":110,"data":{"name":"hopper"},
"layer":[
{"mark":{"type":"area","fillOpacity":0.3},"encoding":{
"x":{"field":"step","type":"quantitative","title":"1e5","scale":{"domain":[-0.25,5.25],"nice":false,"zero":false},"axis":{"values":[0,1,2,3,4,5],"format":"d","labelOverlap":false,"titleAnchor":"end","titleFontSize":7}},
"y":{"field":"lo","type":"quantitative","title":"Average Return","scale":{"domain":[-40,366],"nice":false,"zero":false},"axis":{"values":[0,100,200,300],"format":"d","labelOverlap":false}},
"y2":{"field":"hi"},
"fill":{"field":"algo","type":"nominal","title":null}}},
{"mark":{"type":"line","strokeWidth":1.8},"encoding":{
"x":{"field":"step","type":"quantitative","title":"1e5","axis":{"values":[0,1,2,3,4,5],"format":"d","labelOverlap":false,"titleAnchor":"end","titleFontSize":7}},
"y":{"field":"ret","type":"quantitative","title":"Average Return","axis":{"values":[0,100,200,300],"format":"d","labelOverlap":false}},
"color":{"field":"algo","type":"nominal","title":null,"legend":{"orient":"none","legendX":165,"legendY":-31,"direction":"horizontal"}}}}
]},
{"title":"pendulum_swingup","width":208,"height":110,"data":{"name":"pendulum"},
"resolve":{"axis":{"x":"independent"}},
"layer":[
{"mark":{"type":"area","fillOpacity":0.3},"encoding":{
"x":{"field":"step","type":"quantitative","title":"1e5","scale":{"domain":[-0.25,5.25],"nice":false,"zero":false},"axis":{"orient":"bottom","values":[0,1,2,3,4,5],"format":"d","labelOverlap":false,"labelOpacity":0,"grid":false,"titleAnchor":"end","titleFontSize":7}},
"y":{"field":"lo","type":"quantitative","title":"Average Return","scale":{"domain":[-204,1090],"nice":false,"zero":false},"axis":{"values":[0,250,500,750,1000],"format":"d","labelOverlap":false}},
"y2":{"field":"hi"},
"fill":{"field":"algo","type":"nominal","title":null}}},
{"mark":{"type":"line","strokeWidth":1.8},"encoding":{
"x":{"field":"step","type":"quantitative","title":"Environment Steps","axis":{"orient":"bottom","values":[0,1,2,3,4,5],"format":"d","labelOverlap":false}},
"y":{"field":"ret","type":"quantitative","title":"Average Return","axis":{"values":[0,250,500,750,1000],"format":"d","labelOverlap":false}},
"color":{"field":"algo","type":"nominal","title":null,"legend":{"orient":"none","legendX":165,"legendY":-31,"direction":"horizontal"}}}}
]},
{"title":"quadruped_run","width":208,"height":110,"data":{"name":"quadruped"},
"resolve":{"axis":{"x":"independent"}},
"layer":[
{"mark":{"type":"area","fillOpacity":0.3},"encoding":{
"x":{"field":"step","type":"quantitative","title":"1e5","scale":{"domain":[-0.25,5.25],"nice":false,"zero":false},"axis":{"orient":"bottom","values":[0,1,2,3,4,5],"format":"d","labelOverlap":false,"labelOpacity":0,"grid":false,"titleAnchor":"end","titleFontSize":7}},
"y":{"field":"lo","type":"quantitative","title":"Average Return","scale":{"domain":[-10,605],"nice":false,"zero":false},"axis":{"values":[0,200,400],"format":"d","labelOverlap":false}},
"y2":{"field":"hi"},
"fill":{"field":"algo","type":"nominal","title":null}}},
{"mark":{"type":"line","strokeWidth":1.8},"encoding":{
"x":{"field":"step","type":"quantitative","title":"Environment Steps","axis":{"orient":"bottom","values":[0,1,2,3,4,5],"format":"d","labelOverlap":false}},
"y":{"field":"ret","type":"quantitative","title":"Average Return","axis":{"values":[0,200,400],"format":"d","labelOverlap":false}},
"color":{"field":"algo","type":"nominal","title":null,"legend":{"orient":"none","legendX":165,"legendY":-31,"direction":"horizontal"}}}}
]},
{"title":"walker_run_sparse","width":208,"height":110,"data":{"name":"walker"},
"resolve":{"axis":{"x":"independent"}},
"layer":[
{"mark":{"type":"area","fillOpacity":0.3},"encoding":{
"x":{"field":"step","type":"quantitative","title":"1e5","scale":{"domain":[-0.25,5.25],"nice":false,"zero":false},"axis":{"orient":"bottom","values":[0,1,2,3,4,5],"format":"d","labelOverlap":false,"labelOpacity":0,"grid":false,"titleAnchor":"end","titleFontSize":7}},
"y":{"field":"lo","type":"quantitative","title":"Average Return","scale":{"domain":[-57,566],"nice":false,"zero":false},"axis":{"values":[0,200,400],"format":"d","labelOverlap":false}},
"y2":{"field":"hi"},
"fill":{"field":"algo","type":"nominal","title":null}}},
{"mark":{"type":"line","strokeWidth":1.8},"encoding":{
"x":{"field":"step","type":"quantitative","title":"Environment Steps","axis":{"orient":"bottom","values":[0,1,2,3,4,5],"format":"d","labelOverlap":false}},
"y":{"field":"ret","type":"quantitative","title":"Average Return","axis":{"values":[0,200,400],"format":"d","labelOverlap":false}},
"color":{"field":"algo","type":"nominal","title":null,"legend":{"orient":"none","legendX":165,"legendY":-31,"direction":"horizontal"}}}}
]}
]
}
